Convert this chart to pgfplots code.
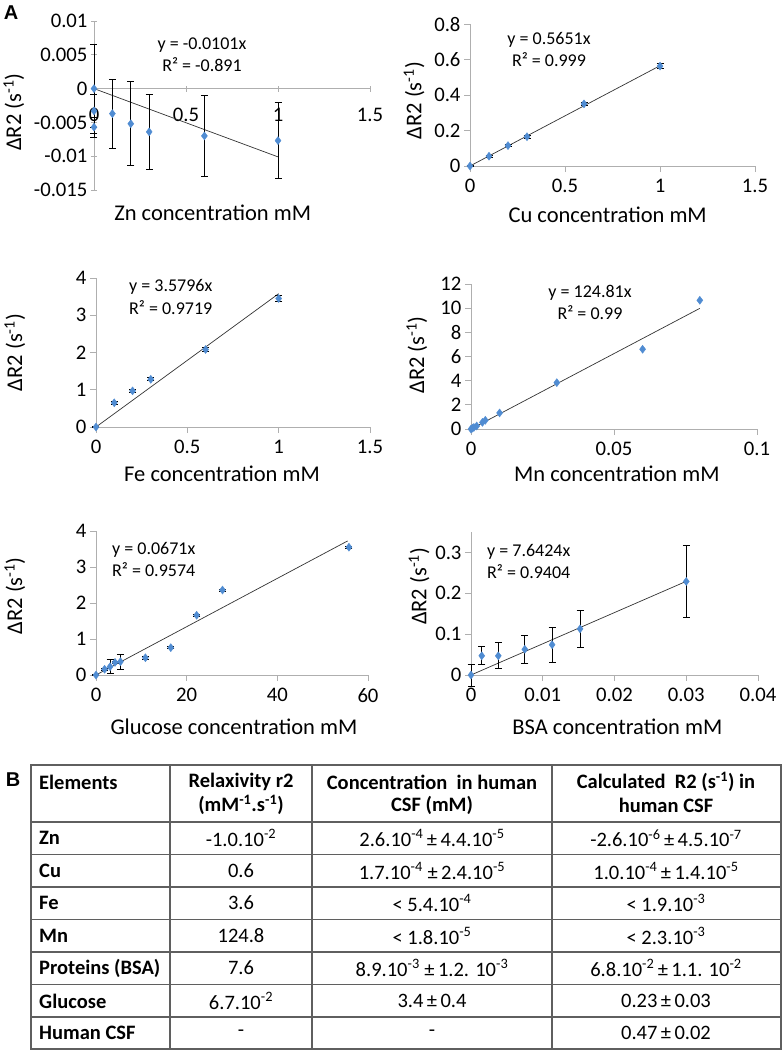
\documentclass[border=0pt]{standalone}
\usepackage{fontspec}
\setmainfont{Carlito}
\newfontfamily\arialf{Liberation Sans}
\usepackage{pgfplots}
\usepackage{pgfplotstable}
\pgfplotsset{compat=1.18}

\definecolor{mk}{RGB}{80,140,210}
\definecolor{axc}{RGB}{175,175,175}
\definecolor{tbl}{RGB}{95,95,95}

\newcommand{\tf}{\fontsize{20.7}{24}\selectfont}
\newcommand{\lf}{\fontsize{22.5}{26}\selectfont}
\newcommand{\ef}{\fontsize{18}{21}\selectfont}
\newcommand{\tbf}{\fontsize{20.5}{24}\selectfont}
\newcommand{\sps}[1]{\textsuperscript{#1}}

\pgfplotsset{
  excel/.style={
    scale only axis, clip=false, anchor=south west,
    axis lines=left,
    axis line style={-, draw=axc, line width=0.9pt},
    tick style={draw=axc, line width=0.9pt},
    tick align=outside, major tick length=6pt,
    scaled ticks=false,
    ticklabel style={font=\tf, text=black},
    /pgf/number format/assume math mode=true,
    xticklabel style={yshift=-4pt},
  },
  mks/.style={only marks, mark=diamond*, mark size=4pt, mark options={fill=mk, draw=mk}},
  errs/.style={error bars/.cd, y dir=both, y explicit,
    error bar style={black, line width=0.8pt},
    error mark options={rotate=90, black, mark size=3.5pt, line width=0.8pt}},
  trend/.style={black!80, line width=0.7pt},
}

\pgfplotstableread{
x y e
0 0 0.0066
0 -0.0033 0.0025
0 -0.0057 0.0015
0.1 -0.0037 0.0051
0.2 -0.0052 0.0062
0.3 -0.0064 0.0056
0.6 -0.0070 0.0060
1 -0.0077 0.0056
}\zndata

\pgfplotstableread{
x y e
0 0 0.003
0.1 0.055 0.006
0.2 0.115 0.007
0.3 0.165 0.008
0.6 0.350 0.010
1 0.563 0.013
}\cudata

\pgfplotstableread{
x y e
0 0 0.02
0.1 0.65 0.03
0.2 0.97 0.03
0.3 1.28 0.04
0.6 2.08 0.05
1 3.45 0.09
}\fedata

\pgfplotstableread{
x y
0 0
0.0005 0.07
0.001 0.13
0.002 0.25
0.004 0.55
0.005 0.72
0.010 1.33
0.030 3.84
0.060 6.60
0.080 10.65
}\mndata

\pgfplotstableread{
x y e
0 0 0.02
1.9 0.16 0.02
3.1 0.23 0.19
4.2 0.35 0.03
5.4 0.37 0.21
10.9 0.48 0.04
16.5 0.76 0.03
22.2 1.66 0.03
27.9 2.36 0.03
55.8 3.55 0.03
}\gludata

\pgfplotstableread{
x y e
0 0 0.027
0.0015 0.047 0.022
0.0038 0.047 0.032
0.0075 0.063 0.035
0.0113 0.074 0.042
0.0152 0.113 0.045
0.030 0.229 0.089
}\bsadata

\begin{document}
\begin{tikzpicture}
\path[use as bounding box] (0pt,0pt) rectangle (784pt,-1050pt);

% ---------- Zn ----------
\begin{axis}[excel, at={(94pt,-190pt)}, width=276pt, height=169pt,
  xmin=0, xmax=1.5, ymin=-0.015, ymax=0.01,
  axis x line=middle, axis y line=left,
  axis line style={-, draw=axc, line width=0.9pt},
  hide obscured x ticks=false,
  xtick={0,0.5,1,1.5}, xticklabels={0,0.5,1,1.5},
  xticklabel style={yshift=-9pt},
  ytick={-0.015,-0.01,-0.005,0,0.005,0.01},
  yticklabels={-0.015,-0.01,-0.005,0,0.005,0.01},
  xlabel={Zn concentration mM}, ylabel={ΔR2 (s\sps{-1})},
  every axis x label/.style={at={(axis description cs:0.43,-0.136)}, anchor=center, font=\lf},
  every axis y label/.style={at={(axis description cs:-0.29,0.46)}, rotate=90, anchor=center, font=\lf},
]
\addplot[trend] coordinates {(0,0) (1,-0.0101)};
\addplot[mks, errs] table[x=x, y=y, y error=e] {\zndata};
\end{axis}

% ---------- Cu ----------
\begin{axis}[excel, at={(470pt,-166pt)}, width=285pt, height=142pt,
  xmin=0, xmax=1.5, ymin=0, ymax=0.8,
  xtick={0,0.5,1,1.5}, xticklabels={0,0.5,1,1.5},
  ytick={0,0.2,0.4,0.6,0.8}, yticklabels={0,0.2,0.4,0.6,0.8},
  xlabel={Cu concentration mM}, ylabel={ΔR2 (s\sps{-1})},
  every axis x label/.style={at={(axis description cs:0.483,-0.345)}, anchor=center, font=\lf},
  every axis y label/.style={at={(axis description cs:-0.196,0.46)}, rotate=90, anchor=center, font=\lf},
]
\addplot[trend] coordinates {(0,0) (1,0.5651)};
\addplot[mks, errs] table[x=x, y=y, y error=e] {\cudata};
\end{axis}

% ---------- Fe ----------
\begin{axis}[excel, at={(96pt,-427pt)}, width=274pt, height=149pt,
  xmin=0, xmax=1.5, ymin=0, ymax=4,
  xtick={0,0.5,1,1.5}, xticklabels={0,0.5,1,1.5},
  ytick={0,1,2,3,4}, yticklabels={0,1,2,3,4},
  xlabel={Fe concentration mM}, ylabel={ΔR2 (s\sps{-1})},
  every axis x label/.style={at={(axis description cs:0.46,-0.315)}, anchor=center, font=\lf},
  every axis y label/.style={at={(axis description cs:-0.296,0.50)}, rotate=90, anchor=center, font=\lf},
]
\addplot[trend] coordinates {(0,0) (1,3.5796)};
\addplot[mks, errs] table[x=x, y=y, y error=e] {\fedata};
\end{axis}

% ---------- Mn ----------
\begin{axis}[excel, at={(471pt,-429pt)}, width=286pt, height=145pt,
  xmin=0, xmax=0.1, ymin=0, ymax=12,
  xtick={0,0.05,0.1}, xticklabels={0,0.05,0.1},
  ytick={0,2,4,6,8,10,12}, yticklabels={0,2,4,6,8,10,12},
  xlabel={Mn concentration mM}, ylabel={ΔR2 (s\sps{-1})},
  every axis x label/.style={at={(axis description cs:0.51,-0.31)}, anchor=center, font=\lf},
  every axis y label/.style={at={(axis description cs:-0.189,0.51)}, rotate=90, anchor=center, font=\lf},
]
\addplot[trend] coordinates {(0,0) (0.08,9.985)};
\addplot[mks] table[x=x, y=y] {\mndata};
\end{axis}

% ---------- Glucose ----------
\begin{axis}[excel, at={(96pt,-675pt)}, width=272pt, height=144pt,
  xmin=0, xmax=60, ymin=0, ymax=4,
  xtick={0,20,40,60}, xticklabels={0,20,40,60},
  ytick={0,1,2,3,4}, yticklabels={0,1,2,3,4},
  xlabel={Glucose concentration mM}, ylabel={ΔR2 (s\sps{-1})},
  every axis x label/.style={at={(axis description cs:0.507,-0.361)}, anchor=center, font=\lf},
  every axis y label/.style={at={(axis description cs:-0.298,0.55)}, rotate=90, anchor=center, font=\lf},
]
\addplot[trend] coordinates {(0,0) (55.5,3.724)};
\addplot[mks, errs] table[x=x, y=y, y error=e] {\gludata};
\end{axis}

% ---------- BSA ----------
\begin{axis}[excel, at={(471pt,-675pt)}, width=287pt, height=143pt,
  xmin=0, xmax=0.04, ymin=0, ymax=0.35,
  xtick={0,0.01,0.02,0.03,0.04}, xticklabels={0,0.01,0.02,0.03,0.04},
  ytick={0,0.1,0.2,0.3}, yticklabels={0,0.1,0.2,0.3},
  xlabel={BSA concentration mM}, ylabel={ΔR2 (s\sps{-1})},
  every axis x label/.style={at={(axis description cs:0.51,-0.364)}, anchor=center, font=\lf},
  every axis y label/.style={at={(axis description cs:-0.181,0.62)}, rotate=90, anchor=center, font=\lf},
]
\addplot[trend] coordinates {(0,0) (0.03,0.2293)};
\addplot[mks, errs] table[x=x, y=y, y error=e] {\bsadata};
\end{axis}

% ---------- equations ----------
\begin{scope}[every node/.style={font=\ef, inner sep=0pt}]
\node at (202pt,-45pt) {y = -0.0101x};
\node at (202pt,-65pt) {R² = -0.891};
\node at (549pt,-40pt) {y = 0.5651x};
\node at (549pt,-60pt) {R² = 0.999};
\node[anchor=west] at (129pt,-287pt) {y = 3.5796x};
\node[anchor=west] at (129pt,-308pt) {R² = 0.9719};
\node at (590pt,-293pt) {y = 124.81x};
\node at (590pt,-313pt) {R² = 0.99};
\node[anchor=west] at (112pt,-550pt) {y = 0.0671x};
\node[anchor=west] at (112pt,-570pt) {R² = 0.9574};
\node[anchor=west] at (487pt,-552pt) {y = 7.6424x};
\node[anchor=west] at (487pt,-572pt) {R² = 0.9404};
\end{scope}

% ---------- panel letters ----------
\node[font=\arialf\bfseries\fontsize{20}{24}\selectfont, inner sep=0pt] at (11pt,-13pt) {A};
\node[font=\arialf\bfseries\fontsize{20}{24}\selectfont, inner sep=0pt] at (13pt,-780pt) {B};

% ---------- table ----------
\draw[tbl, line width=1.1pt] (31pt,-765pt) rectangle (781pt,-1049pt);
\foreach \yy in {822,854.5,887,919.5,952,984.5,1017} {
  \draw[tbl, line width=1.1pt] (31pt,-\yy pt) -- (781pt,-\yy pt);
}
\foreach \xx in {170,312,552} {
  \draw[tbl, line width=1.1pt] (\xx pt,-765pt) -- (\xx pt,-1049pt);
}
\begin{scope}[every node/.style={font=\tbf, inner sep=0pt}]
\node[anchor=west, font=\tbf\bfseries] at (39pt,-782pt) {Elements};
\node[font=\tbf\bfseries] at (241pt,-782pt) {Relaxivity r2};
\node[font=\tbf\bfseries] at (241pt,-805pt) {(mM\sps{-1}.s\sps{-1})};
\node[font=\tbf\bfseries] at (432pt,-782pt) {Concentration\ \ in human};
\node[font=\tbf\bfseries] at (432pt,-805pt) {CSF (mM)};
\node[font=\tbf\bfseries] at (666pt,-782pt) {Calculated\ \ R2 (s\sps{-1}) in};
\node[font=\tbf\bfseries] at (666pt,-805pt) {human CSF};
% rows
\node[anchor=west, font=\tbf\bfseries] at (39pt,-838pt) {Zn};
\node at (241pt,-838pt) {-1.0.10\sps{-2}};
\node at (432pt,-838pt) {2.6.10\sps{-4}\,±\,4.4.10\sps{-5}};
\node at (666pt,-838pt) {-2.6.10\sps{-6}\,±\,4.5.10\sps{-7}};
\node[anchor=west, font=\tbf\bfseries] at (39pt,-871pt) {Cu};
\node at (241pt,-871pt) {0.6};
\node at (432pt,-871pt) {1.7.10\sps{-4} ±\,2.4.10\sps{-5}};
\node at (666pt,-871pt) {1.0.10\sps{-4}\,±\,1.4.10\sps{-5}};
\node[anchor=west, font=\tbf\bfseries] at (39pt,-903pt) {Fe};
\node at (241pt,-903pt) {3.6};
\node at (432pt,-903pt) {< 5.4.10\sps{-4}};
\node at (666pt,-903pt) {< 1.9.10\sps{-3}};
\node[anchor=west, font=\tbf\bfseries] at (39pt,-936pt) {Mn};
\node at (241pt,-936pt) {124.8};
\node at (432pt,-936pt) {< 1.8.10\sps{-5}};
\node at (666pt,-936pt) {< 2.3.10\sps{-3}};
\node[anchor=west, font=\tbf\bfseries] at (39pt,-968pt) {Proteins (BSA)};
\node at (241pt,-968pt) {7.6};
\node at (432pt,-968pt) {8.9.10\sps{-3} ±\,1.2. 10\sps{-3}};
\node at (666pt,-968pt) {6.8.10\sps{-2}\,±\,1.1. 10\sps{-2}};
\node[anchor=west, font=\tbf\bfseries] at (39pt,-1001pt) {Glucose};
\node at (241pt,-1001pt) {6.7.10\sps{-2}};
\node at (432pt,-1001pt) {3.4\,±\,0.4};
\node at (666pt,-1001pt) {0.23\,±\,0.03};
\node[anchor=west, font=\tbf\bfseries] at (39pt,-1033pt) {Human CSF};
\node at (241pt,-1033pt) {-};
\node at (432pt,-1033pt) {-};
\node at (666pt,-1033pt) {0.47\,±\,0.02};
\end{scope}
\end{tikzpicture}
\end{document}
